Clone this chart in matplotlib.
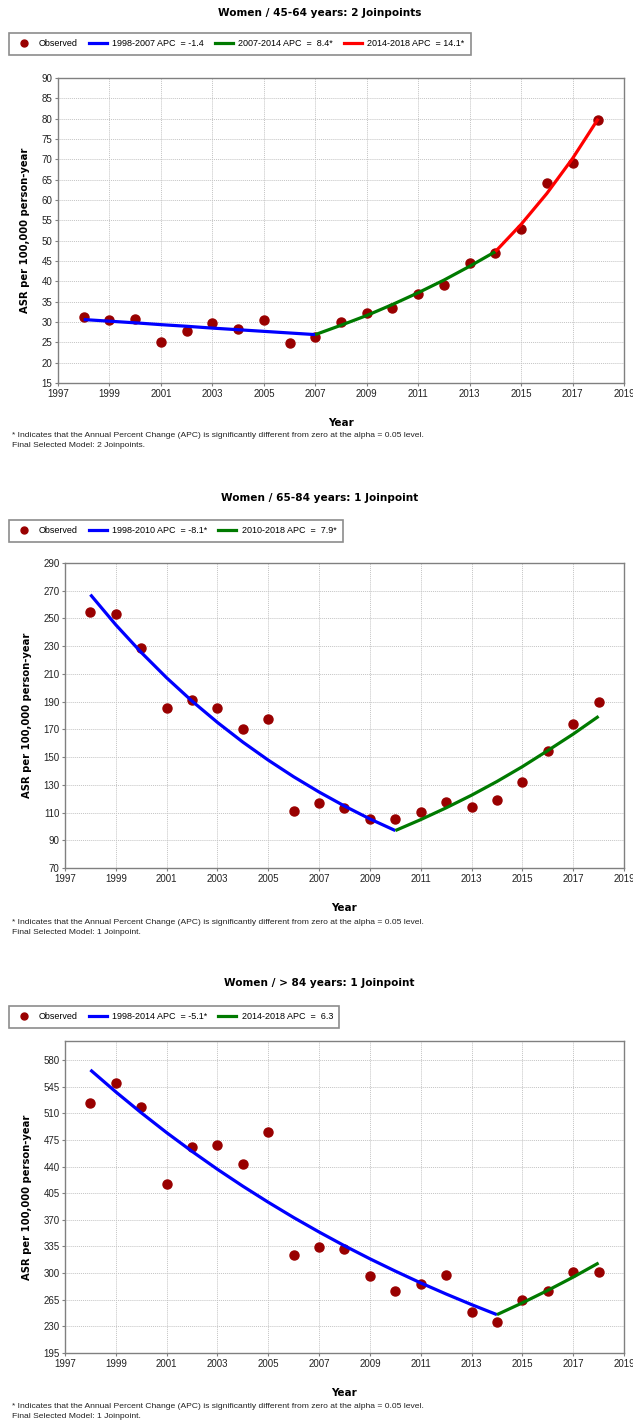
import matplotlib.pyplot as plt
from matplotlib.lines import Line2D

YEARS = list(range(1998, 2019))
XTICKS = list(range(1997, 2020, 2))

# Women / 45-64 years
obs_45_64 = [31.3, 30.6, 30.8, 25.2, 27.9, 29.8, 28.3, 30.6, 24.9, 26.4, 30.0,
             32.2, 33.4, 37.0, 39.0, 44.6, 46.9, 52.9, 64.3, 69.0, 79.7]
fit_45_64_a_years = list(range(1998, 2008))
fit_45_64_a = [30.6, 30.2, 29.8, 29.35, 28.95, 28.5, 28.1, 27.7, 27.3, 26.9]
fit_45_64_b_years = list(range(2007, 2015))
fit_45_64_b = [26.9, 29.2, 31.6, 34.3, 37.2, 40.3, 43.7, 47.3]
fit_45_64_c_years = list(range(2014, 2019))
fit_45_64_c = [47.3, 54.0, 61.6, 70.2, 80.0]

# Women / 65-84 years
obs_65_84 = [254.4, 253.0, 229.0, 185.6, 191.4, 185.6, 170.3, 177.7, 110.9, 116.6,
             113.3, 105.3, 105.3, 110.3, 117.5, 114.0, 118.8, 131.8, 154.2, 173.9, 189.6]
fit_65_84_a_years = list(range(1998, 2011))
fit_65_84_a = [267.2, 245.4, 225.5, 207.2, 190.4, 175.0, 160.8, 147.8, 135.8,
               124.8, 114.7, 105.4, 97.0]
fit_65_84_b_years = list(range(2010, 2019))
fit_65_84_b = [97.0, 104.9, 113.4, 122.5, 132.4, 143.1, 154.7, 166.6, 179.4]

# Women / > 84 years
obs_84 = [523.0, 550.0, 518.0, 417.0, 466.0, 468.0, 443.0, 485.5, 323.6, 333.7,
          331.5, 295.6, 277.0, 286.0, 297.8, 248.8, 236.0, 264.0, 277.0, 301.0, 302.0]
fit_84_a_years = list(range(1998, 2015))
fit_84_a = [567.0, 538.1, 510.7, 484.6, 459.9, 436.4, 414.2, 393.1, 373.0, 354.0,
            335.9, 318.8, 302.6, 287.1, 272.5, 258.6, 245.4]
fit_84_b_years = list(range(2014, 2019))
fit_84_b = [245.4, 260.9, 277.3, 294.7, 313.3]

BLUE = "#0000ff"
GREEN = "#007a00"
RED = "#ff0000"
DOT = "#990000"

W, H = 633, 1423
TICK_FONT = "Liberation Sans"
BOLD_FONT = "DejaVu Sans"

fig = plt.figure(figsize=(W / 100, H / 100), dpi=100)


def px_rect(left, top, right, bottom):
    return [left / W, 1 - bottom / H, (right - left) / W, (bottom - top) / H]


def panel(rect, title, title_y, legend_top, obs, segments, yticks, ylim,
          note_y, model):
    ax = fig.add_axes(px_rect(*rect))
    for xs, ys, color, _ in segments:
        ax.plot(xs, ys, color=color, lw=2.3, zorder=4, solid_capstyle="butt")
    ax.plot(YEARS, obs, "o", color=DOT, ms=6.5, zorder=3)

    ax.set_xlim(1997, 2019)
    ax.set_ylim(*ylim)
    ax.set_xticks(XTICKS)
    ax.set_yticks(yticks)
    ax.grid(True, color="#c4c4c4", ls=(0, (1, 1)), lw=0.7)
    ax.set_axisbelow(True)
    for s in ax.spines.values():
        s.set_color("#808080")
        s.set_linewidth(1.0)
    ax.tick_params(length=2, color="#808080", pad=2, labelsize=7,
                   labelcolor="#222222")
    for lab in ax.get_xticklabels() + ax.get_yticklabels():
        lab.set_fontfamily(TICK_FONT)
    ax.set_xlabel("Year", fontsize=7.5, fontweight="bold", family=BOLD_FONT,
                  labelpad=14)
    ax.set_ylabel("ASR per 100,000 person-year", fontsize=7.2,
                  fontweight="bold", family=BOLD_FONT, labelpad=8)

    fig.text(0.505, 1 - title_y / H, title, ha="center", va="center",
             fontsize=7.6, fontweight="bold", family=BOLD_FONT)

    handles = [Line2D([], [], ls="none", marker="o", color=DOT, ms=5)]
    labels = ["Observed"]
    for _, _, color, lab in segments:
        handles.append(Line2D([], [], color=color, lw=2.3))
        labels.append(lab)
    leg = fig.legend(handles, labels, loc="upper left",
                     bbox_to_anchor=(9 / W, 1 - legend_top / H),
                     ncol=len(handles), frameon=True, fancybox=False,
                     prop={"family": TICK_FONT, "size": 6.5},
                     handlelength=2.0, handletextpad=0.6, columnspacing=1.2,
                     borderpad=0.7, borderaxespad=0)
    leg.get_frame().set_edgecolor("#707070")
    leg.get_frame().set_linewidth(1.2)

    fig.text(12 / W, 1 - note_y / H,
             "* Indicates that the Annual Percent Change (APC) is significantly "
             "different from zero at the alpha = 0.05 level.",
             fontsize=6.1, family=TICK_FONT, va="center", color="#222222")
    fig.text(12 / W, 1 - (note_y + 10) / H, model,
             fontsize=6.1, family=TICK_FONT, va="center", color="#222222")


panel((58, 78, 624, 383), "Women / 45-64 years: 2 Joinpoints", 13, 33,
      obs_45_64,
      [(fit_45_64_a_years, fit_45_64_a, BLUE, "1998-2007 APC  = -1.4"),
       (fit_45_64_b_years, fit_45_64_b, GREEN, "2007-2014 APC  =  8.4*"),
       (fit_45_64_c_years, fit_45_64_c, RED, "2014-2018 APC  = 14.1*")],
      list(range(15, 95, 5)), (15, 90), 436, "Final Selected Model: 2 Joinpoints.")

panel((65, 563, 624, 868), "Women / 65-84 years: 1 Joinpoint", 498, 520,
      obs_65_84,
      [(fit_65_84_a_years, fit_65_84_a, BLUE, "1998-2010 APC  = -8.1*"),
       (fit_65_84_b_years, fit_65_84_b, GREEN, "2010-2018 APC  =  7.9*")],
      list(range(70, 300, 20)), (70, 290), 922, "Final Selected Model: 1 Joinpoint.")

panel((65, 1041, 624, 1353), "Women / > 84 years: 1 Joinpoint", 983, 1006,
      obs_84,
      [(fit_84_a_years, fit_84_a, BLUE, "1998-2014 APC  = -5.1*"),
       (fit_84_b_years, fit_84_b, GREEN, "2014-2018 APC  =  6.3")],
      list(range(195, 600, 35)), (195, 605), 1407, "Final Selected Model: 1 Joinpoint.")

fig.savefig("out.png", dpi=100)
